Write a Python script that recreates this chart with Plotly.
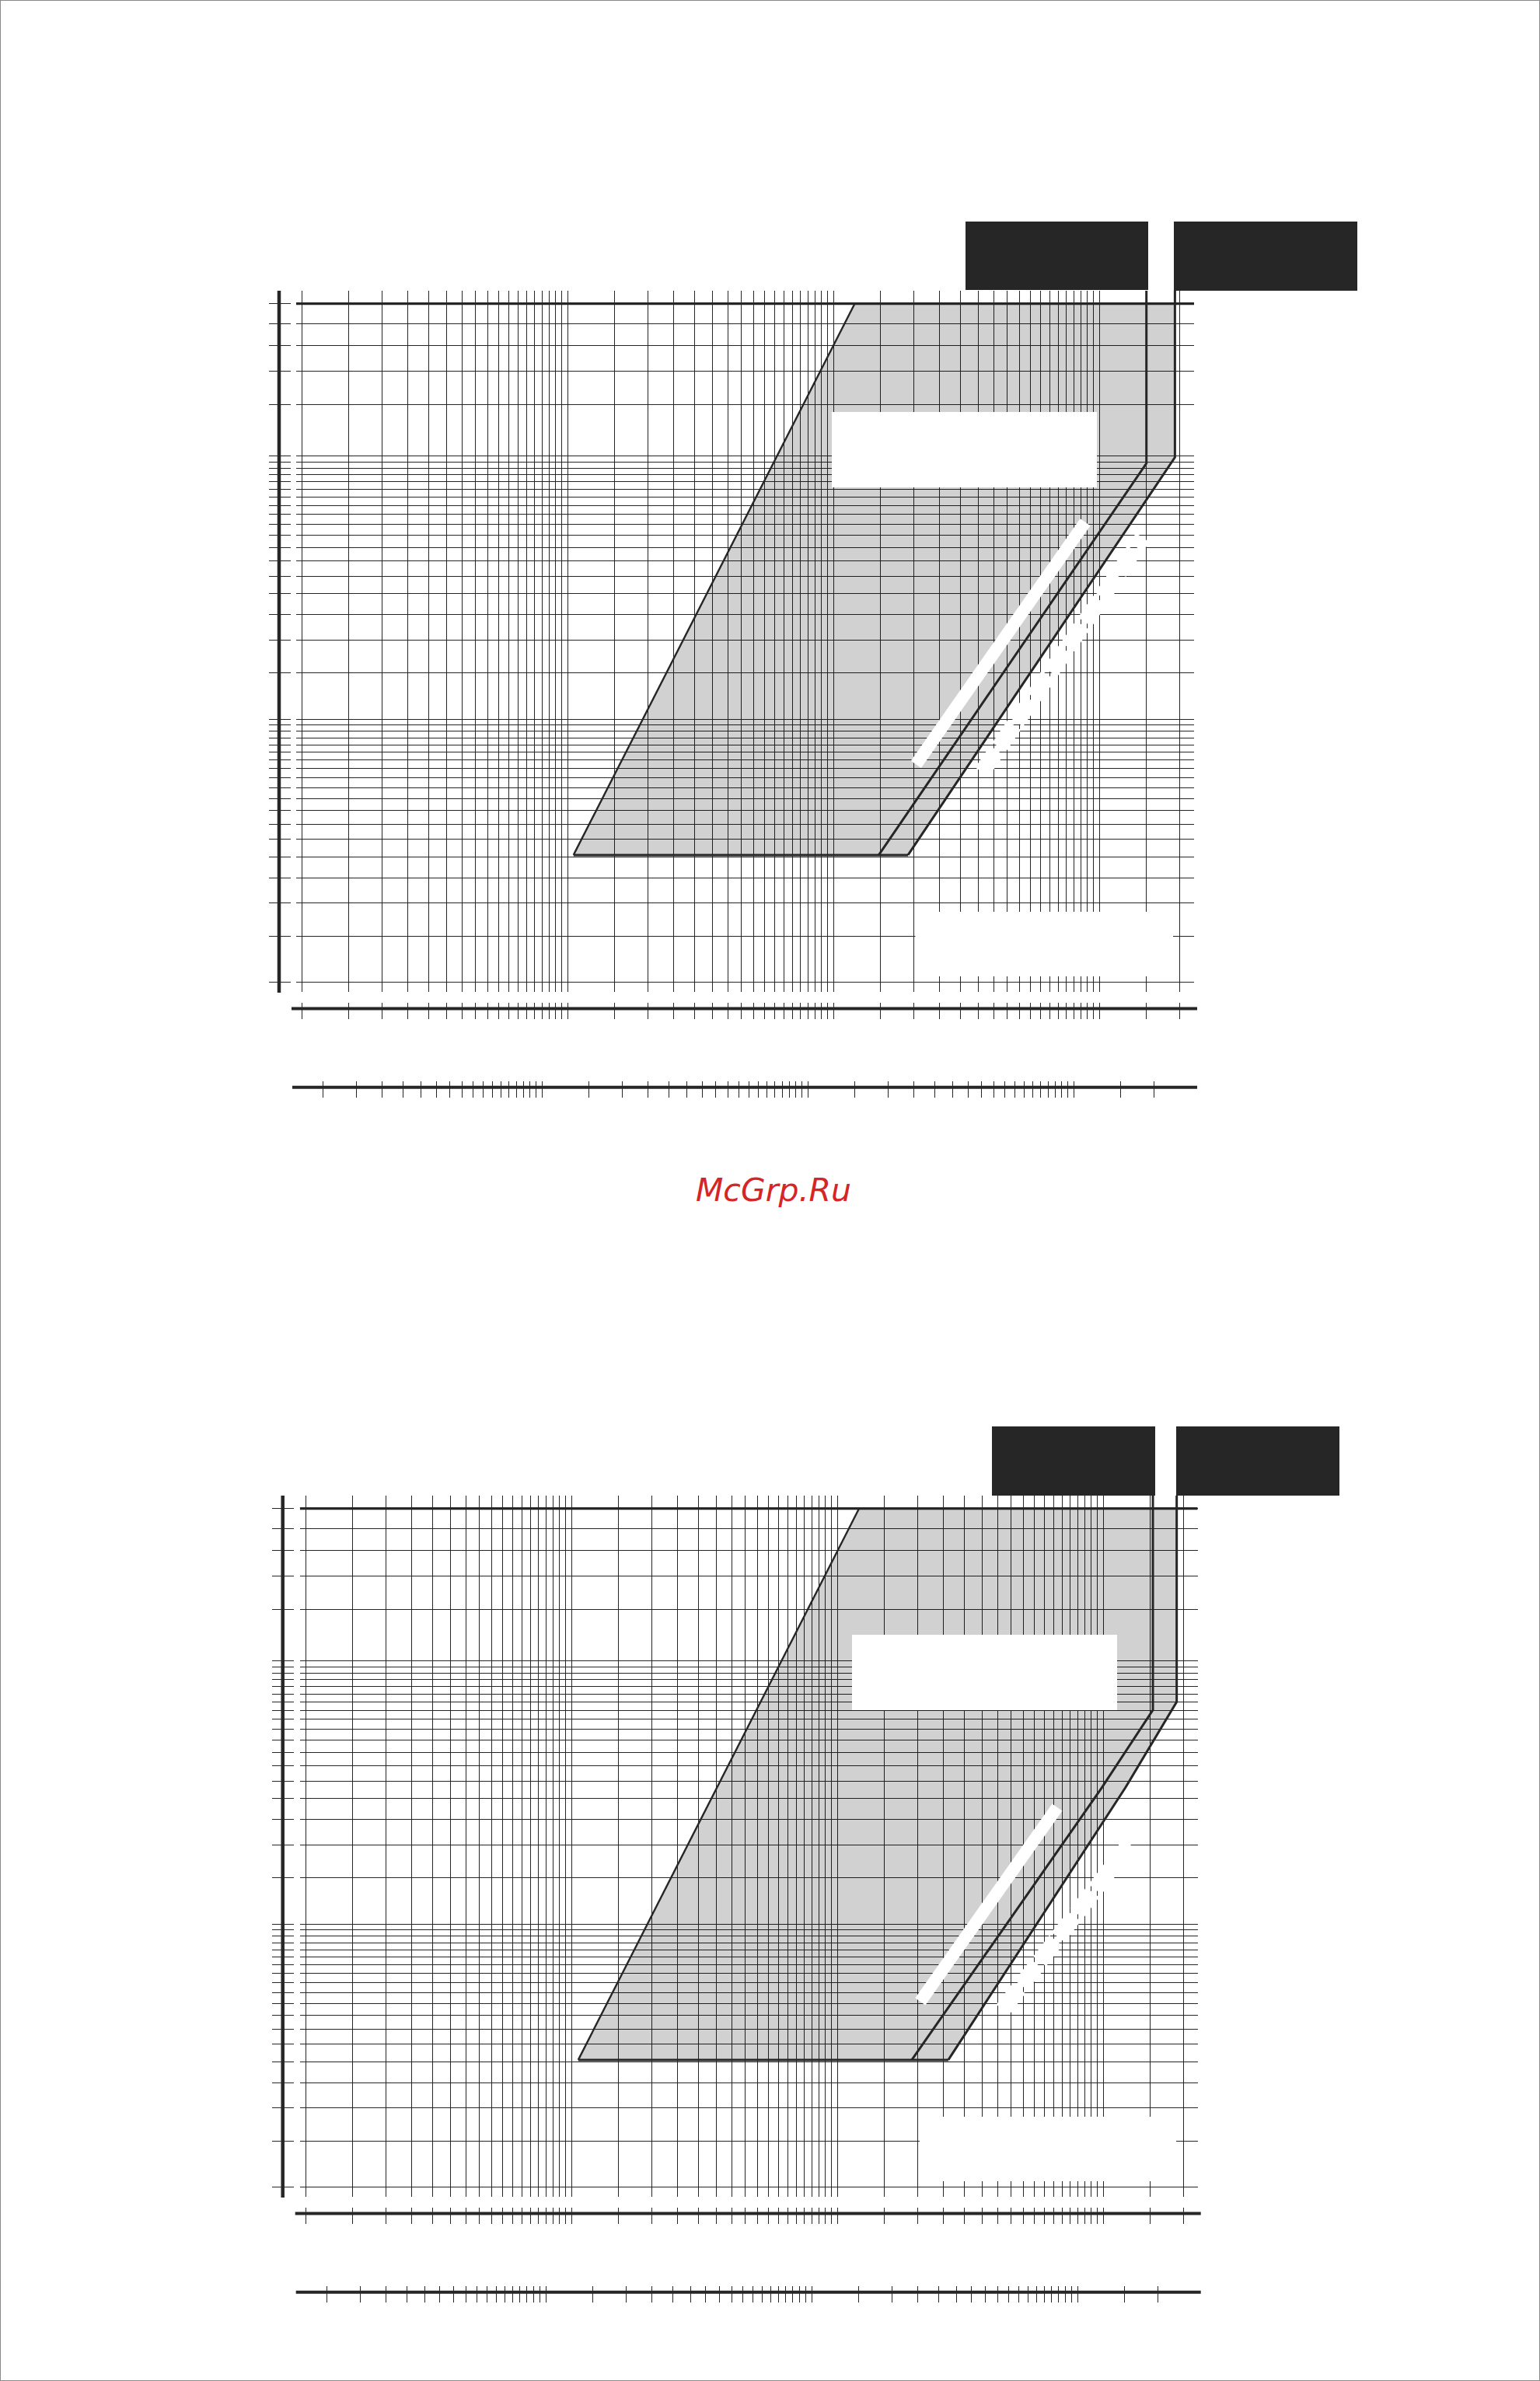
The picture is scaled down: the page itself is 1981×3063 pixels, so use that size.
import plotly.graph_objects as go
import math

W, H = 1981, 3063
INK = "#262626"

# ---------------- data ----------------
MANTISSAS = [1, 1.5, 2, 2.5, 3, 3.5, 4, 4.5, 5, 5.5, 6, 6.5, 7, 7.5, 8, 8.5, 9, 9.5]
X_DECADES = [1, 10, 100]
X_TAIL = [1000, 1500, 2000]
Y_DECADES = [1, 10]
Y_TAIL = [100, 157, 211, 264, 319, 380]
Y_TOP = 380
Y_BASE = 3.05
SECOND_SCALE = 1.25          # lower scale value = upper scale value x 1.25

X_GRID = [round(m * d, 3) for d in X_DECADES for m in MANTISSAS] + X_TAIL
Y_GRID = [round(m * d, 3) for d in Y_DECADES for m in MANTISSAS] + Y_TAIL

X_RANGE = [-0.0219, 3.3553]
Y_RANGE = [-0.0360, 2.6287]

# chart 1 (upper)
C1_DIAG_X = [10.5, 120.0]
C1_DIAG_Y = [3.05, 380]
C1_INNER_X = [147.7, 1500, 1500]
C1_INNER_Y = [3.05, 93.9, 1000]
C1_OUTER_X = [190.3, 1920, 1920]
C1_OUTER_Y = [3.05, 99.0, 1000]
C1_BAR_X = [204, 883]
C1_BAR_Y = [6.74, 56.1]
C1_BAND_X = [361, 1453]
C1_BAND_Y = [6.30, 49.0]

# chart 2 (lower)
C2_DIAG_X = [10.6, 120.7]
C2_DIAG_Y = [3.05, 380]
C2_INNER_X = [190.5, 987, 1537, 1537]
C2_INNER_Y = [3.05, 33.0, 65.1, 1000]
C2_OUTER_X = [261.4, 1211, 1889, 1889]
C2_OUTER_Y = [3.05, 33.0, 70.0, 1000]
C2_BAR_X = [205, 671]
C2_BAR_Y = [5.08, 27.8]
C2_BAND_X = [419, 1273]
C2_BAND_Y = [4.74, 20.5]

WATERMARK = "McGrp.Ru"


def px_x(p):
    return p / W


def px_y(p):
    return 1 - p / H


charts = [
    dict(dx=0.0, dy=0.0, names=("x", "y", "x2", "x3", "y2"),
         diag=(C1_DIAG_X, C1_DIAG_Y), inner=(C1_INNER_X, C1_INNER_Y),
         outer=(C1_OUTER_X, C1_OUTER_Y), bar=(C1_BAR_X, C1_BAR_Y),
         band=(C1_BAND_X, C1_BAND_Y),
         black=[(1242, 285, 1477, 373), (1510, 285, 1746, 374)],
         white=[(1070, 530, 1411, 627), (1177.5, 1173, 1509, 1256)]),
    dict(dx=4.7, dy=1550.0, names=("x4", "y3", "x5", "x6", "y4"),
         diag=(C2_DIAG_X, C2_DIAG_Y), inner=(C2_INNER_X, C2_INNER_Y),
         outer=(C2_OUTER_X, C2_OUTER_Y), bar=(C2_BAR_X, C2_BAR_Y),
         band=(C2_BAND_X, C2_BAND_Y),
         black=[(1276, 1835, 1486, 1924), (1513, 1835, 1723, 1924)],
         white=[(1096, 2103, 1437, 2200), (1183, 2723, 1513, 2806)]),
]


def lk(a):
    return a[0] + "axis" + a[1:]


fig = go.Figure()
layout = dict(width=W, height=H, margin=dict(l=0, r=0, t=0, b=0, pad=0),
              paper_bgcolor="white", plot_bgcolor="white", showlegend=False)
shapes = []

for c in charts:
    dx, dy = c["dx"], c["dy"]
    xa, ya, xb, xc, yb = c["names"]
    dX, dY = c["diag"]
    iX, iY = c["inner"]
    oX, oY = c["outer"]

    # shaded band
    poly_x = [dX[1], dX[0]] + oX[:-1] + [oX[-1]]
    poly_y = [dY[1], dY[0]] + oY[:-1] + [Y_TOP]
    fig.add_trace(go.Scatter(x=poly_x, y=poly_y, xaxis=xa, yaxis=ya, fill="toself",
                             fillcolor="rgba(0,0,0,0.18)", mode="lines",
                             line=dict(width=0), hoverinfo="skip"))
    # whitened leader bars
    bx, by = c["bar"]
    fig.add_trace(go.Scatter(x=bx, y=by, xaxis=xa, yaxis=ya, mode="lines",
                             line=dict(color="white", width=16), hoverinfo="skip"))
    nx, ny = c["band"]
    fig.add_trace(go.Scatter(x=nx, y=ny, xaxis=xa, yaxis=ya, mode="lines",
                             line=dict(color="white", width=21, dash="34px,5px"),
                             hoverinfo="skip"))
    # top boundary line
    fig.add_trace(go.Scatter(x=[10 ** X_RANGE[0], 10 ** X_RANGE[1]], y=[Y_TOP, Y_TOP],
                             xaxis=xa, yaxis=ya, mode="lines",
                             line=dict(color=INK, width=3.2), hoverinfo="skip"))
    # bottom edge
    fig.add_trace(go.Scatter(x=[dX[0], oX[0]], y=[Y_BASE, Y_BASE], xaxis=xa, yaxis=ya,
                             mode="lines", line=dict(color=INK, width=3), hoverinfo="skip"))
    # diagonal
    fig.add_trace(go.Scatter(x=dX, y=dY, xaxis=xa, yaxis=ya, mode="lines",
                             line=dict(color=INK, width=2.4), hoverinfo="skip"))
    # curves
    for cx, cy in (c["inner"], c["outer"]):
        fig.add_trace(go.Scatter(x=cx, y=cy, xaxis=xa, yaxis=ya, mode="lines",
                                 line=dict(color=INK, width=3), hoverinfo="skip"))
    # dummy traces for overlay axes
    for ax_x, ax_y in ((xb, ya), (xc, ya), (xa, yb)):
        fig.add_trace(go.Scatter(x=[X_GRID[1]], y=[Y_GRID[1]], xaxis=ax_x, yaxis=ax_y,
                                 mode="markers", marker=dict(opacity=0), hoverinfo="skip"))

    common = dict(type="log", showticklabels=False, zeroline=False, showline=False,
                  fixedrange=True)
    layout[lk(xa)] = dict(common, domain=[px_x(381 + dx), px_x(1536 + dx)], range=X_RANGE,
                          tickvals=X_GRID, showgrid=True, gridcolor=INK, gridwidth=1.4,
                          ticks="", anchor=ya)
    layout[lk(ya)] = dict(common, domain=[px_y(1276 + dy), px_y(374 + dy)], range=Y_RANGE,
                          tickvals=Y_GRID, showgrid=True, gridcolor=INK, gridwidth=1.4,
                          ticks="", anchor=xa)
    layout[lk(xb)] = dict(common, overlaying=xa, anchor="free", position=px_y(1289.3 + dy),
                          range=X_RANGE, tickvals=X_GRID, showgrid=False, ticks="outside",
                          ticklen=21, tickwidth=1.4, tickcolor=INK, side="bottom")
    shift = math.log10(SECOND_SCALE)
    layout[lk(xc)] = dict(common, overlaying=xa, anchor="free", position=px_y(1390 + dy),
                          range=[X_RANGE[0] + shift, X_RANGE[1] + shift], tickvals=X_GRID,
                          showgrid=False, ticks="outside", ticklen=21, tickwidth=1.4,
                          tickcolor=INK, side="bottom")
    layout[lk(yb)] = dict(common, overlaying=ya, anchor="free", position=px_x(373.5 + dx),
                          side="left", range=Y_RANGE, tickvals=Y_GRID, showgrid=False,
                          ticks="outside", ticklen=28, tickwidth=1.4, tickcolor=INK)

    # axis rails
    shapes.append(dict(type="line", xref="paper", yref="paper",
                       x0=px_x(359 + dx), x1=px_x(359 + dx),
                       y0=px_y(374 + dy), y1=px_y(1277 + dy),
                       line=dict(color=INK, width=4.5), layer="above"))
    shapes.append(dict(type="line", xref="paper", yref="paper",
                       x0=px_x(375 + dx), x1=px_x(1540 + dx),
                       y0=px_y(1297.5 + dy), y1=px_y(1297.5 + dy),
                       line=dict(color=INK, width=4), layer="above"))
    shapes.append(dict(type="line", xref="paper", yref="paper",
                       x0=px_x(376 + dx), x1=px_x(1540 + dx),
                       y0=px_y(1398.7 + dy), y1=px_y(1398.7 + dy),
                       line=dict(color=INK, width=4), layer="above"))
    # blanked label boxes
    for (x0, y0, x1, y1) in c["white"]:
        shapes.append(dict(type="rect", xref="paper", yref="paper",
                           x0=px_x(x0), x1=px_x(x1), y0=px_y(y1), y1=px_y(y0),
                           fillcolor="white", line=dict(width=0), layer="above"))
    for (x0, y0, x1, y1) in c["black"]:
        shapes.append(dict(type="rect", xref="paper", yref="paper",
                           x0=px_x(x0), x1=px_x(x1), y0=px_y(y1), y1=px_y(y0),
                           fillcolor=INK, line=dict(width=0), layer="above"))

# page border
shapes.append(dict(type="rect", xref="paper", yref="paper", x0=0, x1=1, y0=0, y1=1,
                   line=dict(color="#8a8a8a", width=2), fillcolor="rgba(0,0,0,0)",
                   layer="above"))

layout["shapes"] = shapes
layout["annotations"] = [dict(text="<i>" + WATERMARK + "</i>", xref="paper", yref="paper",
                              x=px_x(995), y=px_y(1531), showarrow=False,
                              xanchor="center", yanchor="middle",
                              font=dict(family="DejaVu Sans", size=41, color="#d42626"))]
fig.update_layout(**layout)

fig.write_html("out.html", config={"displayModeBar": False},
               post_script="document.body.style.margin='0px';")
